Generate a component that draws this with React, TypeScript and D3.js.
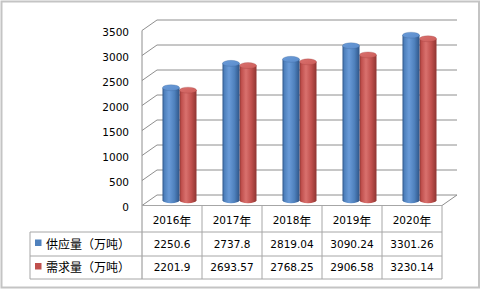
import React from 'react';
import * as d3 from 'd3';

const categories = ['2016', '2017', '2018', '2019', '2020'];
const yearSuffix = '年';
const seriesNames = ['供应量（万吨）', '需求量（万吨）'];
const supply = [2250.6, 2737.8, 2819.04, 3090.24, 3301.26];
const demand = [2201.9, 2693.57, 2768.25, 2906.58, 3230.14];
const yTicks = [0, 500, 1000, 1500, 2000, 2500, 3000, 3500];

const W = 482;
const H = 290;
const DX = 15;
const DY = -10.5;
const LEFT = 142;
const RIGHT = 442;
const FLOOR = 205.5;
const TOP = 30.5;
const ROWS = [205.5, 232, 256, 279];
const LEG_X = 30;
const NUM_FONT = '"DejaVu Sans", "Noto Sans CJK SC", sans-serif';
const CJK_FONT = '"Noto Sans CJK SC", "DejaVu Sans", sans-serif';
const GRID = '#8e8e8e';
const TABLE = '#a6a6a6';

const colors = [
  { base: '#4F81BD', dark: '#2f5689', light: '#6a9bd8', top: '#5b8ccb' },
  { base: '#C0504D', dark: '#8f3532', light: '#d9716e', top: '#cd5d5a' },
];

export default function App() {
  const x = d3.scaleBand<string>().domain(categories).range([LEFT, RIGHT]).padding(0);
  const y = d3.scaleLinear().domain([0, 3500]).range([FLOOR, TOP]);
  const bw = x.bandwidth();
  const r = 8.5;
  const ry = 3;
  const series = [supply, demand];

  const cylinder = (cx: number, v: number, si: number, key: string) => {
    const yb = y(0) + DY / 2;
    const yt = y(v) + DY / 2;
    const d = `M${cx - r},${yt} L${cx - r},${yb} A${r},${ry} 0 0 0 ${cx + r},${yb} L${cx + r},${yt} Z`;
    return (
      <g key={key}>
        <path d={d} fill={`url(#body${si})`} />
        <ellipse cx={cx} cy={yt} rx={r} ry={ry} fill={`url(#topg${si})`} stroke={colors[si].dark} strokeWidth={0.4} strokeOpacity={0.6} />
      </g>
    );
  };

  return (
    <svg width={W} height={H} style={{ position: 'absolute', left: 0, top: 0, background: '#fff' }}>
      <defs>
        {colors.map((c, i) => (
          <linearGradient key={'b' + i} id={`body${i}`} x1="0" x2="1" y1="0" y2="0">
            <stop offset="0" stopColor={c.dark} />
            <stop offset="0.12" stopColor={c.base} />
            <stop offset="0.38" stopColor={c.light} />
            <stop offset="0.7" stopColor={c.base} />
            <stop offset="1" stopColor={c.dark} />
          </linearGradient>
        ))}
        {colors.map((c, i) => (
          <linearGradient key={'t' + i} id={`topg${i}`} x1="0" x2="1" y1="0" y2="1">
            <stop offset="0" stopColor={c.light} />
            <stop offset="1" stopColor={c.top} />
          </linearGradient>
        ))}
      </defs>
      <rect x={1.5} y={1.5} width={477.5} height={286} fill="#fff" stroke="#c4c4c4" strokeWidth={2} />

      {/* gridlines: side wall diagonals + back wall horizontals */}
      {yTicks.map((t) => (
        <polyline
          key={'g' + t}
          points={`${LEFT},${y(t)} ${LEFT + DX},${y(t) + DY} ${RIGHT + DX},${y(t) + DY}`}
          fill="none"
          stroke={GRID}
          strokeWidth={1}
        />
      ))}
      {/* floor right edge */}
      <line x1={RIGHT} y1={FLOOR} x2={RIGHT + DX} y2={FLOOR + DY} stroke={GRID} strokeWidth={1} />
      {/* front axis */}
      <line x1={LEFT} y1={y(3500)} x2={LEFT} y2={ROWS[3]} stroke={GRID} strokeWidth={1} />

      {/* tick labels */}
      {yTicks.map((t) => (
        <text key={'l' + t} x={129} y={y(t) + 1.5} textAnchor="end" dominantBaseline="central" fontFamily={NUM_FONT} fontSize={10.5} fill="#000">
          {t}
        </text>
      ))}

      {/* bars */}
      {categories.map((c, ci) => {
        const cx = (x(c) as number) + bw / 2 + DX / 2;
        return (
          <g key={'c' + c}>
            {cylinder(cx + r, demand[ci], 1, 'd' + c)}
            {cylinder(cx - r, supply[ci], 0, 's' + c)}
          </g>
        );
      })}

      {/* table */}
      <line x1={LEFT} y1={ROWS[0]} x2={RIGHT} y2={ROWS[0]} stroke={TABLE} strokeWidth={1} />
      {ROWS.slice(1).map((ry2, i) => (
        <line key={'r' + i} x1={LEG_X} y1={ry2} x2={RIGHT} y2={ry2} stroke={TABLE} strokeWidth={1} />
      ))}
      <line x1={LEG_X} y1={ROWS[1]} x2={LEG_X} y2={ROWS[3]} stroke={TABLE} strokeWidth={1} />
      {categories.map((c) => (
        <line key={'v' + c} x1={(x(c) as number) + bw} y1={ROWS[0]} x2={(x(c) as number) + bw} y2={ROWS[3]} stroke={TABLE} strokeWidth={1} />
      ))}
      {categories.map((c) => (
        <text key={'h' + c} x={(x(c) as number) + bw / 2} y={(ROWS[0] + ROWS[1]) / 2 + 1.5} textAnchor="middle" dominantBaseline="central" fontFamily={NUM_FONT} fontSize={10.5} fill="#000">
          {c}
          <tspan fontFamily={CJK_FONT} fontSize={12}>{yearSuffix}</tspan>
        </text>
      ))}
      {series.map((s, si) => (
        <g key={'row' + si}>
          <rect x={35} y={(ROWS[si + 1] + ROWS[si + 2]) / 2 - 4.5} width={6.5} height={6.5} fill={colors[si].base} />
          <text x={46} y={(ROWS[si + 1] + ROWS[si + 2]) / 2 - 1} dominantBaseline="central" fontFamily={CJK_FONT} fontSize={12} fill="#000">
            {seriesNames[si]}
          </text>
          {categories.map((c, ci) => (
            <text key={'t' + c} x={(x(c) as number) + bw / 2} y={(ROWS[si + 1] + ROWS[si + 2]) / 2 - 0.5} textAnchor="middle" dominantBaseline="central" fontFamily={NUM_FONT} fontSize={10.5} fill="#000">
              {String(s[ci])}
            </text>
          ))}
        </g>
      ))}
    </svg>
  );
}
